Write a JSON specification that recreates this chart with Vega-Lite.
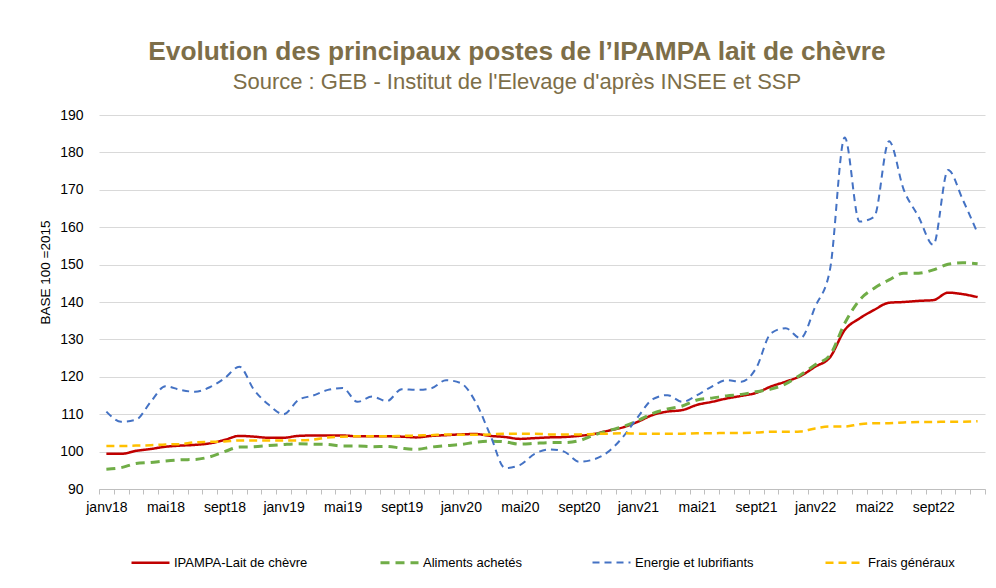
{
  "$schema": "https://vega.github.io/schema/vega-lite/v6.json",
  "width": 886,
  "height": 374,
  "autosize": {"type": "none"},
  "padding": {"left": 99, "top": 115, "right": 11, "bottom": 99},
  "background": "white",
  "title": {
    "text": "Evolution des principaux postes de l’IPAMPA lait de chèvre",
    "subtitle": "Source : GEB - Institut de l'Elevage d'après INSEE et SSP",
    "anchor": "middle",
    "frame": "group",
    "dx": -25,
    "offset": 15,
    "font": "Liberation Sans",
    "fontSize": 26.3,
    "fontWeight": "bold",
    "color": "#7d6e48",
    "subtitleFont": "Liberation Sans",
    "subtitleFontSize": 22,
    "subtitleColor": "#7d6e48",
    "subtitlePadding": 7
  },
  "data": {
    "values": [
      {"mois": "janv18", "IPAMPA-Lait de chèvre": 99.4, "Aliments achetés": 95.3, "Energie et lubrifiants": 110.7, "Frais généraux": 101.5},
      {"mois": "févr18", "IPAMPA-Lait de chèvre": 99.4, "Aliments achetés": 95.7, "Energie et lubrifiants": 108.0, "Frais généraux": 101.5},
      {"mois": "mars18", "IPAMPA-Lait de chèvre": 100.2, "Aliments achetés": 96.8, "Energie et lubrifiants": 108.5, "Frais généraux": 101.6},
      {"mois": "avr18", "IPAMPA-Lait de chèvre": 100.7, "Aliments achetés": 97.1, "Energie et lubrifiants": 113.3, "Frais généraux": 101.7},
      {"mois": "mai18", "IPAMPA-Lait de chèvre": 101.3, "Aliments achetés": 97.5, "Energie et lubrifiants": 117.5, "Frais généraux": 101.9},
      {"mois": "juin18", "IPAMPA-Lait de chèvre": 101.6, "Aliments achetés": 97.8, "Energie et lubrifiants": 116.5, "Frais généraux": 102.0},
      {"mois": "juil18", "IPAMPA-Lait de chèvre": 101.8, "Aliments achetés": 97.9, "Energie et lubrifiants": 116.0, "Frais généraux": 102.5},
      {"mois": "août18", "IPAMPA-Lait de chèvre": 102.2, "Aliments achetés": 98.6, "Energie et lubrifiants": 117.2, "Frais généraux": 102.6},
      {"mois": "sept18", "IPAMPA-Lait de chèvre": 103.1, "Aliments achetés": 100.0, "Energie et lubrifiants": 119.6, "Frais généraux": 102.7},
      {"mois": "oct18", "IPAMPA-Lait de chèvre": 104.2, "Aliments achetés": 101.2, "Energie et lubrifiants": 122.7, "Frais généraux": 103.0},
      {"mois": "nov18", "IPAMPA-Lait de chèvre": 104.0, "Aliments achetés": 101.3, "Energie et lubrifiants": 116.5, "Frais généraux": 103.0},
      {"mois": "déc18", "IPAMPA-Lait de chèvre": 103.7, "Aliments achetés": 101.6, "Energie et lubrifiants": 112.5, "Frais généraux": 103.0},
      {"mois": "janv19", "IPAMPA-Lait de chèvre": 103.7, "Aliments achetés": 101.9, "Energie et lubrifiants": 110.0, "Frais généraux": 103.0},
      {"mois": "févr19", "IPAMPA-Lait de chèvre": 104.2, "Aliments achetés": 102.1, "Energie et lubrifiants": 113.8, "Frais généraux": 103.0},
      {"mois": "mars19", "IPAMPA-Lait de chèvre": 104.3, "Aliments achetés": 102.0, "Energie et lubrifiants": 115.0, "Frais généraux": 103.2},
      {"mois": "avr19", "IPAMPA-Lait de chèvre": 104.3, "Aliments achetés": 101.9, "Energie et lubrifiants": 116.5, "Frais généraux": 103.8},
      {"mois": "mai19", "IPAMPA-Lait de chèvre": 104.3, "Aliments achetés": 101.5, "Energie et lubrifiants": 117.0, "Frais généraux": 104.0},
      {"mois": "juin19", "IPAMPA-Lait de chèvre": 104.1, "Aliments achetés": 101.5, "Energie et lubrifiants": 113.3, "Frais généraux": 104.1},
      {"mois": "juil19", "IPAMPA-Lait de chèvre": 104.1, "Aliments achetés": 101.3, "Energie et lubrifiants": 114.7, "Frais généraux": 104.1},
      {"mois": "août19", "IPAMPA-Lait de chèvre": 104.1, "Aliments achetés": 101.4, "Energie et lubrifiants": 113.5, "Frais généraux": 104.1},
      {"mois": "sept19", "IPAMPA-Lait de chèvre": 104.0, "Aliments achetés": 100.9, "Energie et lubrifiants": 116.7, "Frais généraux": 104.2},
      {"mois": "oct19", "IPAMPA-Lait de chèvre": 103.8, "Aliments achetés": 100.6, "Energie et lubrifiants": 116.5, "Frais généraux": 104.3},
      {"mois": "nov19", "IPAMPA-Lait de chèvre": 104.2, "Aliments achetés": 101.2, "Energie et lubrifiants": 116.9, "Frais généraux": 104.4},
      {"mois": "déc19", "IPAMPA-Lait de chèvre": 104.4, "Aliments achetés": 101.6, "Energie et lubrifiants": 119.1, "Frais généraux": 104.6},
      {"mois": "janv20", "IPAMPA-Lait de chèvre": 104.6, "Aliments achetés": 101.9, "Energie et lubrifiants": 118.3, "Frais généraux": 104.5},
      {"mois": "févr20", "IPAMPA-Lait de chèvre": 104.7, "Aliments achetés": 102.5, "Energie et lubrifiants": 113.3, "Frais généraux": 104.5},
      {"mois": "mars20", "IPAMPA-Lait de chèvre": 104.2, "Aliments achetés": 102.8, "Energie et lubrifiants": 104.4, "Frais généraux": 104.6},
      {"mois": "avr20", "IPAMPA-Lait de chèvre": 103.9, "Aliments achetés": 102.6, "Energie et lubrifiants": 95.6, "Frais généraux": 104.8},
      {"mois": "mai20", "IPAMPA-Lait de chèvre": 103.4, "Aliments achetés": 102.0, "Energie et lubrifiants": 96.4, "Frais généraux": 104.8},
      {"mois": "juin20", "IPAMPA-Lait de chèvre": 103.6, "Aliments achetés": 102.2, "Energie et lubrifiants": 99.4, "Frais généraux": 104.8},
      {"mois": "juil20", "IPAMPA-Lait de chèvre": 103.8, "Aliments achetés": 102.4, "Energie et lubrifiants": 100.6, "Frais généraux": 104.6},
      {"mois": "août20", "IPAMPA-Lait de chèvre": 103.9, "Aliments achetés": 102.4, "Energie et lubrifiants": 100.0, "Frais généraux": 104.6},
      {"mois": "sept20", "IPAMPA-Lait de chèvre": 104.2, "Aliments achetés": 102.9, "Energie et lubrifiants": 97.3, "Frais généraux": 104.6},
      {"mois": "oct20", "IPAMPA-Lait de chèvre": 104.7, "Aliments achetés": 104.4, "Energie et lubrifiants": 97.9, "Frais généraux": 104.7},
      {"mois": "nov20", "IPAMPA-Lait de chèvre": 105.6, "Aliments achetés": 105.6, "Energie et lubrifiants": 100.0, "Frais généraux": 104.8},
      {"mois": "déc20", "IPAMPA-Lait de chèvre": 106.5, "Aliments achetés": 106.7, "Energie et lubrifiants": 104.0, "Frais généraux": 104.9},
      {"mois": "janv21", "IPAMPA-Lait de chèvre": 108.0, "Aliments achetés": 108.3, "Energie et lubrifiants": 109.3, "Frais généraux": 104.8},
      {"mois": "févr21", "IPAMPA-Lait de chèvre": 109.8, "Aliments achetés": 110.2, "Energie et lubrifiants": 114.0, "Frais généraux": 104.8},
      {"mois": "mars21", "IPAMPA-Lait de chèvre": 110.7, "Aliments achetés": 111.4, "Energie et lubrifiants": 115.1, "Frais généraux": 104.8},
      {"mois": "avr21", "IPAMPA-Lait de chèvre": 111.1, "Aliments achetés": 112.2, "Energie et lubrifiants": 113.3, "Frais généraux": 104.8},
      {"mois": "mai21", "IPAMPA-Lait de chèvre": 112.5, "Aliments achetés": 113.8, "Energie et lubrifiants": 115.1, "Frais généraux": 104.9},
      {"mois": "juin21", "IPAMPA-Lait de chèvre": 113.3, "Aliments achetés": 114.3, "Energie et lubrifiants": 117.4, "Frais généraux": 104.9},
      {"mois": "juil21", "IPAMPA-Lait de chèvre": 114.2, "Aliments achetés": 114.9, "Energie et lubrifiants": 119.1, "Frais généraux": 105.0},
      {"mois": "août21", "IPAMPA-Lait de chèvre": 114.9, "Aliments achetés": 115.3, "Energie et lubrifiants": 118.7, "Frais généraux": 105.0},
      {"mois": "sept21", "IPAMPA-Lait de chèvre": 115.7, "Aliments achetés": 116.0, "Energie et lubrifiants": 122.3, "Frais généraux": 105.1},
      {"mois": "oct21", "IPAMPA-Lait de chèvre": 117.4, "Aliments achetés": 116.7, "Energie et lubrifiants": 131.6, "Frais généraux": 105.3},
      {"mois": "nov21", "IPAMPA-Lait de chèvre": 118.7, "Aliments achetés": 118.1, "Energie et lubrifiants": 133.0, "Frais généraux": 105.3},
      {"mois": "déc21", "IPAMPA-Lait de chèvre": 120.2, "Aliments achetés": 120.5, "Energie et lubrifiants": 130.3, "Frais généraux": 105.4},
      {"mois": "janv22", "IPAMPA-Lait de chèvre": 122.7, "Aliments achetés": 123.2, "Energie et lubrifiants": 138.7, "Frais généraux": 106.2},
      {"mois": "févr22", "IPAMPA-Lait de chèvre": 125.2, "Aliments achetés": 125.8, "Energie et lubrifiants": 148.6, "Frais généraux": 106.7},
      {"mois": "mars22", "IPAMPA-Lait de chèvre": 132.5, "Aliments achetés": 134.3, "Energie et lubrifiants": 184.0, "Frais généraux": 106.7},
      {"mois": "avr22", "IPAMPA-Lait de chèvre": 135.6, "Aliments achetés": 140.5, "Energie et lubrifiants": 161.5, "Frais généraux": 107.3},
      {"mois": "mai22", "IPAMPA-Lait de chèvre": 137.9, "Aliments achetés": 143.7, "Energie et lubrifiants": 162.8, "Frais généraux": 107.6},
      {"mois": "juin22", "IPAMPA-Lait de chèvre": 139.8, "Aliments achetés": 145.9, "Energie et lubrifiants": 183.0, "Frais généraux": 107.6},
      {"mois": "juil22", "IPAMPA-Lait de chèvre": 140.0, "Aliments achetés": 147.7, "Energie et lubrifiants": 170.0, "Frais généraux": 107.8},
      {"mois": "août22", "IPAMPA-Lait de chèvre": 140.3, "Aliments achetés": 147.7, "Energie et lubrifiants": 162.8, "Frais généraux": 107.9},
      {"mois": "sept22", "IPAMPA-Lait de chèvre": 140.5, "Aliments achetés": 148.6, "Energie et lubrifiants": 155.3, "Frais généraux": 107.9},
      {"mois": "oct22", "IPAMPA-Lait de chèvre": 142.5, "Aliments achetés": 150.1, "Energie et lubrifiants": 175.3, "Frais généraux": 108.0},
      {"mois": "nov22", "IPAMPA-Lait de chèvre": 142.1, "Aliments achetés": 150.5, "Energie et lubrifiants": 167.3, "Frais généraux": 108.0},
      {"mois": "déc22", "IPAMPA-Lait de chèvre": 141.3, "Aliments achetés": 150.2, "Energie et lubrifiants": 158.4, "Frais généraux": 108.1}
    ]
  },
  "transform": [
    {"fold": ["IPAMPA-Lait de chèvre", "Aliments achetés", "Energie et lubrifiants", "Frais généraux"], "as": ["serie", "valeur"]}
  ],
  "mark": {"type": "line", "interpolate": "monotone"},
  "encoding": {
    "x": {
      "field": "mois",
      "type": "ordinal",
      "sort": null,
      "bandPosition": 0.5,
      "scale": {"type": "band", "paddingInner": 0, "paddingOuter": 0},
      "axis": {
        "title": null,
        "labelAngle": 0,
        "labelExpr": "test(/^(janv|mai|sept)/, datum.value) ? datum.value : ''",
        "labelFont": "Liberation Sans",
        "labelFontSize": 14,
        "labelColor": "#000000",
        "labelPadding": 6,
        "tickBand": "extent",
        "tickColor": "#bfbfbf",
        "tickSize": 5,
        "domainColor": "#bfbfbf",
        "grid": false,
        "labelOverlap": false
      }
    },
    "y": {
      "field": "valeur",
      "type": "quantitative",
      "scale": {"domain": [90, 190], "nice": false, "zero": false},
      "axis": {
        "title": "BASE 100 =2015",
        "titleFont": "Liberation Sans",
        "titleFontSize": 13.5,
        "titleFontWeight": "normal",
        "titleColor": "#000000",
        "titleX": -54,
        "titleY": 157,
        "titleAngle": -90,
        "titleAlign": "center",
        "titleBaseline": "middle",
        "values": [90, 100, 110, 120, 130, 140, 150, 160, 170, 180, 190],
        "labelFont": "Liberation Sans",
        "labelFontSize": 14,
        "labelColor": "#000000",
        "labelPadding": 16,
        "ticks": false,
        "domain": false,
        "grid": true,
        "gridColor": "#d9d9d9",
        "gridWidth": 1
      }
    },
    "color": {
      "field": "serie",
      "type": "nominal",
      "scale": {
        "domain": ["IPAMPA-Lait de chèvre", "Aliments achetés", "Energie et lubrifiants", "Frais généraux"],
        "range": ["#c00000", "#70ad47", "#4472c4", "#ffc000"]
      },
      "legend": {
        "title": null,
        "orient": "none",
        "legendX": 31,
        "legendY": 427,
        "direction": "horizontal",
        "columns": 4,
        "columnPadding": 66,
        "padding": 0,
        "symbolType": "stroke",
        "symbolSize": 1444,
        "symbolStrokeWidth": 2.5,
        "labelFont": "Liberation Sans",
        "labelFontSize": 13,
        "labelColor": "#000000",
        "labelOffset": 3
      }
    },
    "strokeDash": {
      "field": "serie",
      "type": "nominal",
      "scale": {
        "domain": ["IPAMPA-Lait de chèvre", "Aliments achetés", "Energie et lubrifiants", "Frais généraux"],
        "range": [[1, 0], [9, 6], [7, 5], [8, 5]]
      },
      "legend": null
    },
    "strokeWidth": {
      "field": "serie",
      "type": "nominal",
      "scale": {
        "type": "ordinal",
        "domain": ["IPAMPA-Lait de chèvre", "Aliments achetés", "Energie et lubrifiants", "Frais généraux"],
        "range": [2.5, 3, 2, 2.5]
      },
      "legend": null
    }
  },
  "config": {
    "view": {"stroke": null}
  }
}
